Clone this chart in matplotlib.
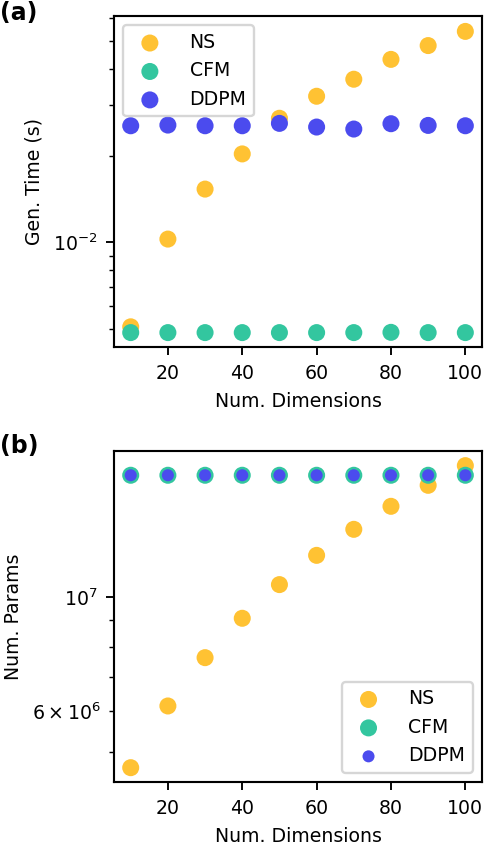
import matplotlib
matplotlib.use("Agg")
import matplotlib.pyplot as plt
import numpy as np

dims = [10, 20, 30, 40, 50, 60, 70, 80, 90, 100]

# Panel (a): generation time (s)
time_ns = [0.00509, 0.01027, 0.01532, 0.0203, 0.0270, 0.0322, 0.0369, 0.04325, 0.0483, 0.0541]
time_cfm = [0.00486, 0.00486, 0.00486, 0.00486, 0.00486, 0.00486, 0.00486, 0.00487, 0.00486, 0.00486]
time_ddpm = [0.02543, 0.02557, 0.02543, 0.02543, 0.02592, 0.02517, 0.02477, 0.02585, 0.0255, 0.02543]

# Panel (b): number of parameters
params_ns = [4.655e6, 6.137e6, 7.62e6, 9.09e6, 1.057e7, 1.205e7, 1.354e7, 1.501e7, 1.649e7, 1.801e7]
params_cfm = [1.725e7] * 10
params_ddpm = [1.725e7] * 10

labels = ["NS", "CFM", "DDPM"]
colors = ["#FFC233", "#33C69F", "#4B4BEE"]

plt.rcParams['font.size'] = 8

DPI = 170
fig = plt.figure(figsize=(484 / DPI, 846 / DPI), dpi=DPI)
ax1 = fig.add_axes([0.2355, 0.5898, 0.7605, 0.3913])
ax2 = fig.add_axes([0.2355, 0.0753, 0.7605, 0.3916])

s_big = 52
ax1.scatter(dims, time_ns, s=s_big, color=colors[0], label=labels[0], edgecolors='none')
ax1.scatter(dims, time_cfm, s=s_big, color=colors[1], label=labels[1], edgecolors='none')
ax1.scatter(dims, time_ddpm, s=s_big, color=colors[2], label=labels[2], edgecolors='none')
ax1.set_yscale('log')
ax1.set_ylim(0.00433, 0.0612)
ax1.set_xlim(5.5, 104.5)
ax1.set_xticks([20, 40, 60, 80, 100])
ax1.set_xlabel("Num. Dimensions")
ax1.set_ylabel("Gen. Time (s)")
ax1.legend(loc='upper left', handletextpad=1.1)

ax2.scatter(dims, params_ns, s=s_big, color=colors[0], label=labels[0], edgecolors='none')
ax2.scatter(dims, params_cfm, s=s_big, color=colors[1], label=labels[1], edgecolors='none')
ax2.scatter(dims, params_ddpm, s=26, color=colors[2], label=labels[2], edgecolors='none')
ax2.set_yscale('log')
ax2.set_ylim(4.36e6, 1.923e7)
ax2.set_xlim(5.5, 104.5)
ax2.set_xticks([20, 40, 60, 80, 100])
ax2.set_xlabel("Num. Dimensions")
ax2.set_ylabel("Num. Params")
ax2.legend(loc='lower right', handletextpad=1.1)

for ax in (ax1, ax2):
    for sp in ax.spines.values():
        sp.set_linewidth(0.9)

fig.text(0.0, 0.999, "(a)", fontweight='bold', fontsize=10, va='top', ha='left')
fig.text(0.0, 0.4725, "(b)", fontweight='bold', fontsize=10, va='center', ha='left')

fig.savefig("out.png", dpi=DPI)
